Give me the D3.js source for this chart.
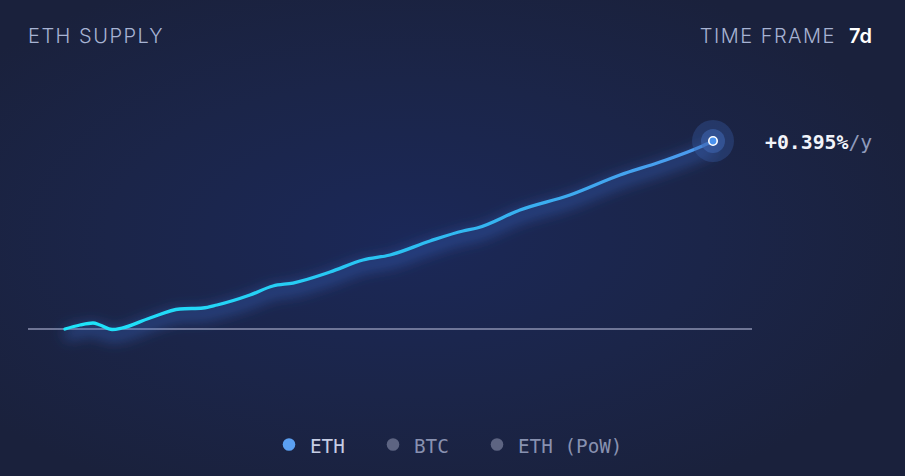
<!DOCTYPE html>
<html><head><meta charset="utf-8">
<script src="https://cdn.jsdelivr.net/npm/d3@7"></script>
<style>html,body{margin:0;padding:0;background:#1b2341;}svg{display:block;}</style>
</head><body>
<svg id="c" width="905" height="476"></svg>
<script>
// Data: days since start of 7d window, change in ETH supply (ETH)
const days = [0,0.162,0.302,0.378,0.508,0.616,0.918,1.242,1.491,1.642,1.998,2.247,2.463,2.863,3.219,3.511,3.943,4.299,4.451,4.915,5.455,5.995,6.428,6.860,7.0];
const supplyDelta = [0,194,290,194,-24,48,532,968,1016,1162,1646,2081,2226,2759,3340,3582,4259,4743,4888,5760,6486,7454,8083,8809,9100];
const legendLabels = ["ETH","BTC","ETH (PoW)"];
const rateLabel = "+0.395%";
const rateUnit = "/y";
const title = "ETH SUPPLY";
const timeFrameLabel = "TIME FRAME";
const timeFrameValue = "7d";

const svg = d3.select("#c");
const W = 905, H = 476;
const defs = svg.append("defs");

const bg = defs.append("radialGradient").attr("id","bg").attr("cx","45%").attr("cy","50%").attr("r","60%");
bg.append("stop").attr("offset","0%").attr("stop-color","#1b2858");
bg.append("stop").attr("offset","55%").attr("stop-color","#1b2549");
bg.append("stop").attr("offset","100%").attr("stop-color","#1a213c");
svg.append("rect").attr("width",W).attr("height",H).attr("fill","url(#bg)");

const x = d3.scaleLinear().domain([0,7]).range([65,713]);
const y = d3.scaleLinear().domain([0,9100]).range([329,141]);

const data = days.map((d,i)=>({d, v:supplyDelta[i]}));

const lg = defs.append("linearGradient").attr("id","lg").attr("gradientUnits","userSpaceOnUse")
  .attr("x1",x(0)).attr("x2",x(7)).attr("y1",0).attr("y2",0);
lg.append("stop").attr("offset","0%").attr("stop-color","#1ee6fb");
lg.append("stop").attr("offset","50%").attr("stop-color","#2ac2f2");
lg.append("stop").attr("offset","100%").attr("stop-color","#4d98ee");

const glow = defs.append("filter").attr("id","glow").attr("x","-20%").attr("y","-50%").attr("width","140%").attr("height","200%");
glow.append("feGaussianBlur").attr("stdDeviation",7);

// baseline
svg.append("line").attr("x1",28).attr("x2",752).attr("y1",y(0)).attr("y2",y(0))
  .attr("stroke","#8c92b0").attr("stroke-width",1.6);

const line = d3.line().x(d=>x(d.d)).y(d=>y(d.v)).curve(d3.curveMonotoneX);

// glow beneath
svg.append("path").datum(data).attr("d",line).attr("fill","none")
  .attr("stroke","#3b6fd0").attr("stroke-opacity",0.45).attr("stroke-width",12)
  .attr("transform","translate(0,6)").attr("filter","url(#glow)");
svg.append("path").datum(data).attr("d",line).attr("fill","none")
  .attr("stroke","url(#lg)").attr("stroke-width",3.3).attr("stroke-linecap","round");

// end point
const last = data[data.length-1];
const ex = x(last.d), ey = y(last.v);
svg.append("circle").attr("cx",ex).attr("cy",ey).attr("r",21).attr("fill","#3a5ea8").attr("fill-opacity",0.35);
svg.append("circle").attr("cx",ex).attr("cy",ey).attr("r",12).attr("fill","#3f68b4").attr("fill-opacity",0.55);
svg.append("circle").attr("cx",ex).attr("cy",ey).attr("r",4.2).attr("fill","#4a92ee").attr("stroke","#ffffff").attr("stroke-width",1.6);

const sans = "Inter, 'Open Sans', sans-serif";
const mono = "'DejaVu Sans Mono', monospace";

svg.append("text").attr("x",28).attr("y",43).text(title)
  .attr("font-family",sans).attr("font-size",20).attr("font-weight",300)
  .attr("letter-spacing",1.5).attr("fill","#a7b3d3");

const tf = svg.append("text").attr("x",872).attr("y",43).attr("text-anchor","end")
  .attr("font-family",sans).attr("font-size",20);
tf.append("tspan").text(timeFrameLabel).attr("font-weight",300).attr("letter-spacing",1.5).attr("fill","#a7b3d3");
tf.append("tspan").text(timeFrameValue).attr("dx",13).attr("font-weight",600).attr("fill","#ffffff");

const rt = svg.append("text").attr("x",765).attr("y",149).attr("font-family",mono).attr("font-size",19.8);
rt.append("tspan").text(rateLabel).attr("fill","#f2f4fa").attr("font-weight",600);
rt.append("tspan").text(rateUnit).attr("fill","#8f9abb");

// legend
const legX = [289, 393, 497];
const legDot = ["#5ba0f2","#5d6482","#5d6482"];
const legText = ["#c6cde4","#8891b0","#8891b0"];
legendLabels.forEach((l,i)=>{
  svg.append("circle").attr("cx",legX[i]).attr("cy",444.5).attr("r",6.3).attr("fill",legDot[i]);
  svg.append("text").attr("x",legX[i]+21).attr("y",453).text(l)
    .attr("font-family",mono).attr("font-size",19.3).attr("fill",legText[i]);
});
</script>
</body></html>
